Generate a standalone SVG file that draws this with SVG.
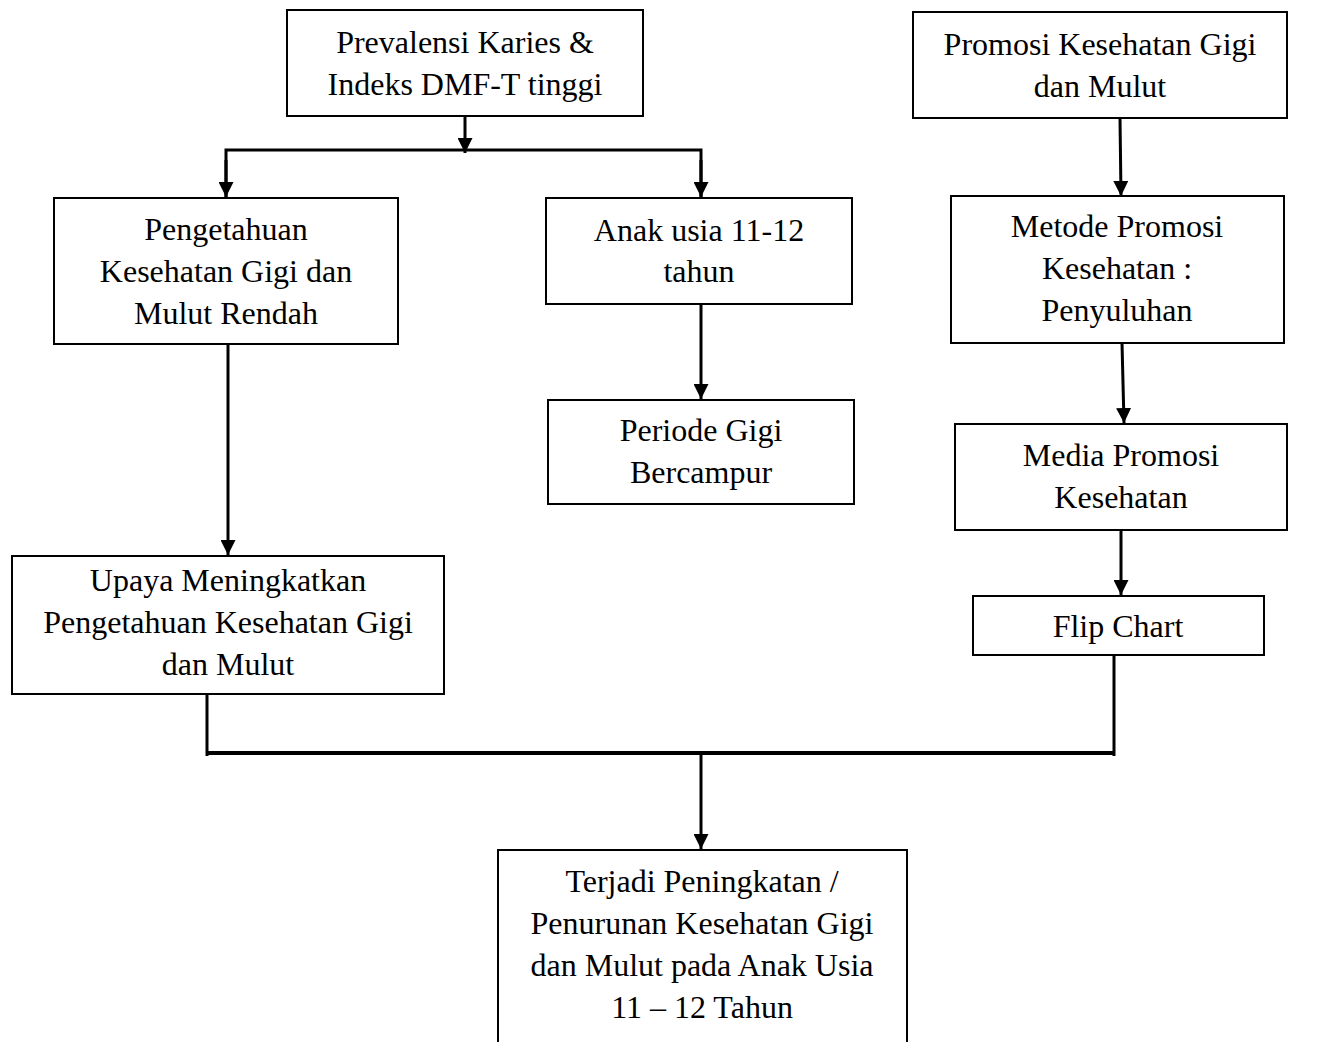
<svg xmlns="http://www.w3.org/2000/svg" width="1323" height="1042" viewBox="0 0 1323 1042">
<style>
.box{fill:#fff;stroke:#000;stroke-width:2}
.t{font-family:"Liberation Serif","Times New Roman",serif;font-size:32px;fill:#000;text-anchor:middle}
.c{fill:none;stroke:#000;stroke-width:3}
.ca{fill:none;stroke:#000;stroke-width:3;marker-end:url(#arr)}
</style>
<defs>
<marker id="arr" viewBox="0 0 10 10" refX="10" refY="5" markerWidth="5" markerHeight="5" orient="auto" markerUnits="strokeWidth">
<path d="M0,0 L10,5 L0,10 Z" fill="#000"/>
</marker>
</defs>
<rect width="1323" height="1042" fill="#fff"/>
<g id="connectors">
<line class="ca" x1="465" y1="116" x2="465" y2="153"/>
<polyline class="c" points="226,197 226,150 701,150 701,197"/>
<line class="ca" x1="226" y1="160" x2="226" y2="197"/>
<line class="ca" x1="701" y1="160" x2="701" y2="197"/>
<line class="ca" x1="228" y1="344" x2="228" y2="555"/>
<line class="ca" x1="701" y1="304" x2="701" y2="399"/>
<line class="ca" x1="1120" y1="118" x2="1121" y2="196"/>
<line class="ca" x1="1122" y1="343" x2="1124" y2="423"/>
<line class="ca" x1="1121" y1="530" x2="1121" y2="595"/>
<line class="c" x1="207" y1="694" x2="207" y2="756"/>
<line class="c" x1="1114" y1="655" x2="1114" y2="756"/>
<line class="c" x1="207" y1="753" x2="1114" y2="753" style="stroke-width:4"/>
<line class="ca" x1="701" y1="755" x2="701" y2="849"/>
</g>
<g id="prevalensi"><rect class="box" x="287" y="10" width="356" height="106"/>
<text class="t" x="465" y="53">Prevalensi Karies &amp;</text><text class="t" x="465" y="95">Indeks DMF-T tinggi</text></g>
<g id="promosi"><rect class="box" x="913" y="12" width="374" height="106"/>
<text class="t" x="1100" y="55">Promosi Kesehatan Gigi</text><text class="t" x="1100" y="97">dan Mulut</text></g>
<g id="pengetahuan"><rect class="box" x="54" y="198" width="344" height="146"/>
<text class="t" x="226" y="240">Pengetahuan</text><text class="t" x="226" y="282">Kesehatan Gigi dan</text><text class="t" x="226" y="324">Mulut Rendah</text></g>
<g id="anak"><rect class="box" x="546" y="198" width="306" height="106"/>
<text class="t" x="699" y="241">Anak usia 11-12</text><text class="t" x="699" y="282">tahun</text></g>
<g id="periode"><rect class="box" x="548" y="400" width="306" height="104"/>
<text class="t" x="701" y="441">Periode Gigi</text><text class="t" x="701" y="483">Bercampur</text></g>
<g id="metode"><rect class="box" x="951" y="196" width="333" height="147"/>
<text class="t" x="1117" y="237">Metode Promosi</text><text class="t" x="1117" y="279">Kesehatan :</text><text class="t" x="1117" y="321">Penyuluhan</text></g>
<g id="media"><rect class="box" x="955" y="424" width="332" height="106"/>
<text class="t" x="1121" y="466">Media Promosi</text><text class="t" x="1121" y="508">Kesehatan</text></g>
<g id="flipchart"><rect class="box" x="973" y="596" width="291" height="59"/>
<text class="t" x="1118" y="637">Flip Chart</text></g>
<g id="upaya"><rect class="box" x="12" y="556" width="432" height="138"/>
<text class="t" x="228" y="591">Upaya Meningkatkan</text><text class="t" x="228" y="633">Pengetahuan Kesehatan Gigi</text><text class="t" x="228" y="675">dan Mulut</text></g>
<g id="terjadi"><rect class="box" x="498" y="850" width="409" height="200"/>
<text class="t" x="702" y="892">Terjadi Peningkatan /</text><text class="t" x="702" y="934">Penurunan Kesehatan Gigi</text><text class="t" x="702" y="976">dan Mulut pada Anak Usia</text><text class="t" x="702" y="1018">11 – 12 Tahun</text></g>
</svg>
